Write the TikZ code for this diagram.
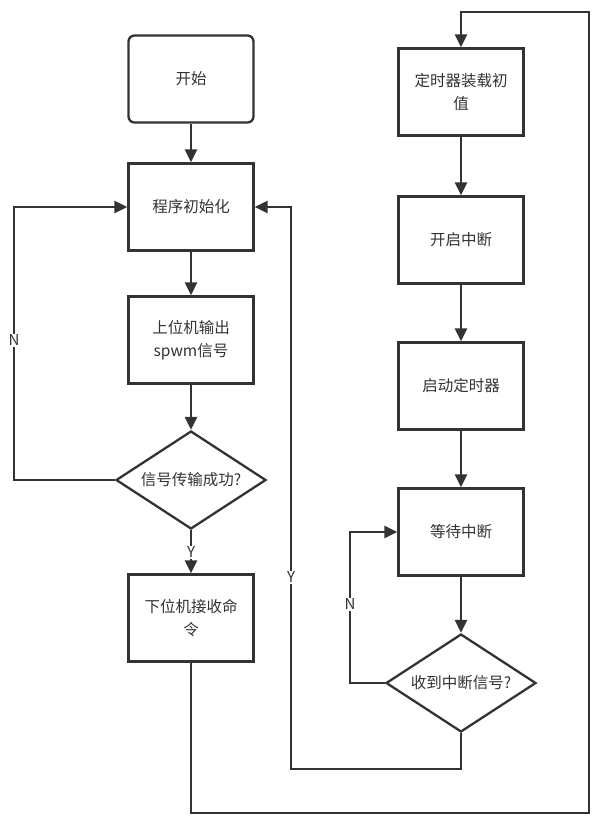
\documentclass[tikz,border=0pt]{standalone}
\usepackage{fontspec}
\setmainfont{Noto Sans CJK SC}
\usetikzlibrary{shapes.geometric,arrows.meta}
\definecolor{ln}{HTML}{333333}
\tikzset{
  box/.style={draw=ln, line width=2.3pt, minimum width=125pt, minimum height=87pt, inner sep=2pt, align=center, text=ln, font=\fontsize{15.5pt}{23pt}\selectfont},
  startbox/.style={box, rounded corners=6pt},
  dec/.style={diamond, draw=ln, line width=2.3pt, minimum width=150pt, minimum height=98pt, aspect=1.53, inner sep=0pt, text=ln, font=\fontsize{15.5pt}{23pt}\selectfont},
  arr/.style={draw=ln, line width=2.3pt, -{Triangle[length=13pt,width=12pt]}},
  lbl/.style={fill=white, text=ln, inner sep=1pt, font=\fontsize{15pt}{17pt}\selectfont}
}
\begin{document}
\begin{tikzpicture}[x=1pt,y=-1pt]
\useasboundingbox[fill=white] (0,0) rectangle (602,825);
\node[startbox] (start) at (191,79) {开始};
\node[box] (init) at (191,207) {程序初始化};
\node[box] (out) at (191,340) {上位机输出\\spwm信号};
\node[dec] (d1) at (191,480) {信号传输成功?};
\node[box] (recv) at (191,618) {下位机接收命\\令};
\node[box] (timer) at (461,92) {定时器装载初\\值};
\node[box] (en) at (461,240) {开启中断};
\node[box] (st) at (461,386) {启动定时器};
\node[box] (wait) at (461,532) {等待中断};
\node[dec] (d2) at (461,683) {收到中断信号?};

\coordinate (nl) at (14,480);
\coordinate (b1) at (191,813);
\coordinate (b2) at (589,12);
\coordinate (n2) at (350,683);
\coordinate (y1) at (291,769);

\draw[arr] (start) -- (init);
\draw[arr] (init) -- (out);
\draw[arr] (out) -- (d1);
\draw[arr] (d1.west) -- (nl) |- (init.west);
\node[lbl] (nlab) at (14,340) {N};
\draw[arr] (d1.south) -- (recv.north);
\node[lbl] (ylab) at (191,552) {Y};
\draw[arr] (recv.south) -- (b1) -| (b2) -| (timer.north);
\draw[arr] (timer) -- (en);
\draw[arr] (en) -- (st);
\draw[arr] (st) -- (wait);
\draw[arr] (wait) -- (d2);
\draw[arr] (d2.west) -- (n2) |- (wait.west);
\node[lbl] (nlab2) at (350,604) {N};
\draw[arr] (d2.south) |- (y1) |- (init.east);
\node[lbl] (ylab2) at (291,577) {Y};
\end{tikzpicture}
\end{document}
